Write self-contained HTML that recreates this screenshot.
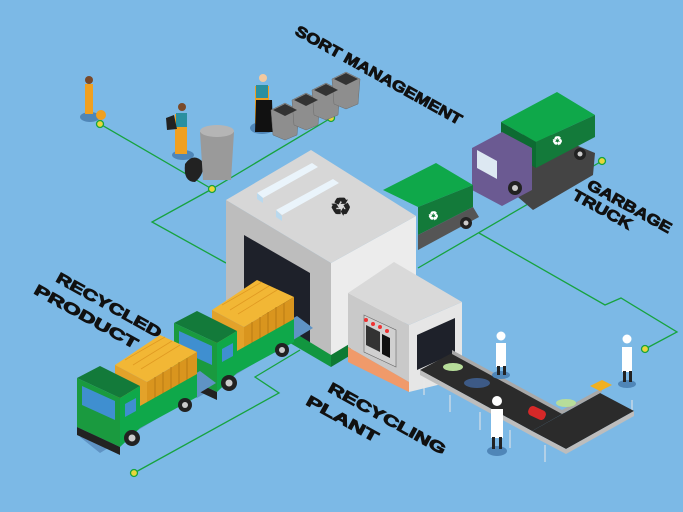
<!DOCTYPE html>
<html><head><meta charset="utf-8"><style>
html,body{margin:0;padding:0;background:#7cb9e6;}
svg{display:block}
text{font-family:"Liberation Sans",Arial,sans-serif;font-weight:bold;fill:#111;}
.lbl{stroke:#111;stroke-width:0.9;}
</style></head><body>
<svg width="683" height="512" viewBox="0 0 683 512" xmlns="http://www.w3.org/2000/svg">
<defs>
<g id="ytruck">
<path d="M80 437 l120 -66 l16 12 l-116 70z" fill="#5f93c4"/>
<path d="M115 365 l45 -30 l37 17 l-50 30z" fill="#f2b735"/>
<path d="M115 365 l32 17 l0 35 l-32 -17z" fill="#e3a22a"/>
<path d="M147 382 l50 -30 l0 38 l-50 28z" fill="#d9951e"/>
<g stroke="#b97b14" stroke-width="1"><line x1="155" y1="377" x2="155" y2="413"/><line x1="163" y1="372" x2="163" y2="408"/><line x1="171" y1="367" x2="171" y2="403"/><line x1="179" y1="362" x2="179" y2="398"/><line x1="187" y1="358" x2="187" y2="394"/></g>
<g stroke="#e09a22" stroke-width=".8"><line x1="125" y1="360" x2="165" y2="337"/><line x1="133" y1="365" x2="172" y2="341"/><line x1="141" y1="369" x2="180" y2="345"/></g>
<path d="M140 406 l57 -32 l0 23 l-57 31z" fill="#0fa84a"/>
<path d="M77 378 l23 -12 l40 20 l-20 12z" fill="#137a3a"/>
<path d="M120 398 l20 -12 l0 42 l-20 19z" fill="#0fa84a"/>
<path d="M125 404 l11 -6 l0 13 l-11 6z" fill="#3f8fd0"/>
<path d="M77 378 l43 20 l0 49 l-43 -20z" fill="#1a9a3f"/>
<path d="M82 386 l33 15 l0 19 l-33 -15z" fill="#3f8fd0"/>
<path d="M77 427 l43 20 l0 8 l-43 -20z" fill="#222"/>
<circle cx="132" cy="438" r="8" fill="#222"/><circle cx="132" cy="438" r="3.5" fill="#ccc"/>
<circle cx="185" cy="405" r="7" fill="#222"/><circle cx="185" cy="405" r="3" fill="#ccc"/>
</g>
</defs>
<rect width="683" height="512" fill="#7cb9e6"/>
<!-- connector lines -->
<g stroke="#17a33f" stroke-width="1.3" fill="none">
<polyline points="100,124 212,189 331,118"/>
<polyline points="212,189 152,222 226,263"/>
<polyline points="602,161 418,268"/>
<polyline points="479,233 605,305 621,298 677,332 645,349"/>
<polyline points="134,473 279,393 255,377 300,350"/>
</g>
<g fill="#e8d63a" stroke="#17a33f" stroke-width="1.3">
<circle cx="100" cy="124" r="3.5"/><circle cx="212" cy="189" r="3.5"/><circle cx="331" cy="118" r="3.5"/>
<circle cx="602" cy="161" r="3.5"/><circle cx="645" cy="349" r="3.5"/><circle cx="134" cy="473" r="3.5"/>
</g>

<!-- labels -->
<text class="lbl" transform="translate(294,34) rotate(29)" font-size="15" textLength="188" lengthAdjust="spacingAndGlyphs">SORT MANAGEMENT</text>
<text class="lbl" transform="translate(586,188) rotate(29)" font-size="15" textLength="94" lengthAdjust="spacingAndGlyphs">GARBAGE</text>
<text class="lbl" transform="translate(571,198) rotate(29)" font-size="15" textLength="66" lengthAdjust="spacingAndGlyphs">TRUCK</text>
<text class="lbl" transform="translate(55,281) rotate(29)" font-size="15" textLength="118" lengthAdjust="spacingAndGlyphs">RECYCLED</text>
<text class="lbl" transform="translate(33,293) rotate(29)" font-size="15" textLength="116" lengthAdjust="spacingAndGlyphs">PRODUCT</text>
<text class="lbl" transform="translate(327,391) rotate(29)" font-size="15" textLength="132" lengthAdjust="spacingAndGlyphs">RECYCLING</text>
<text class="lbl" transform="translate(305,404) rotate(29)" font-size="15" textLength="80" lengthAdjust="spacingAndGlyphs">PLANT</text>

<!-- sort management people & bins -->
<ellipse cx="90" cy="117" rx="10" ry="5" fill="#4f86b8"/>
<rect x="85" y="84" width="8" height="30" fill="#f0a020"/><circle cx="89" cy="80" r="4" fill="#7a4a2a"/>
<circle cx="101" cy="115" r="5" fill="#f0a020"/>
<ellipse cx="183" cy="155" rx="11" ry="5" fill="#4f86b8"/>
<rect x="175" y="114" width="12" height="40" fill="#f0a020"/><rect x="176" y="113" width="11" height="14" fill="#2a8fa0"/>
<circle cx="182" cy="107" r="4" fill="#7a4a2a"/><path d="M166 118 l8 -3 l3 14 l-10 1z" fill="#222"/>
<path d="M185 164 q8 -12 18 -2 q2 12 -8 20 q-12 0 -10 -18z" fill="#222"/>
<path d="M200 132 h34 l-3 48 h-28z" fill="#9a9a9a"/><ellipse cx="217" cy="131" rx="17" ry="6" fill="#b5b5b5"/>
<ellipse cx="262" cy="128" rx="12" ry="6" fill="#4f86b8"/>
<rect x="255" y="86" width="14" height="38" fill="#f0a020"/><rect x="256" y="85" width="12" height="13" fill="#2a8fa0"/>
<circle cx="263" cy="78" r="4" fill="#f2c9a0"/><path d="M256 100 h16 l1 32 h-18z" fill="#111"/>
<g fill="#8e8e8e" stroke="#6b6b6b" stroke-width=".5">
<path d="M271 110 l14 -7 l14 7 l-2 25 l-12 5 l-12 -5z"/>
<path d="M292 100 l14 -7 l14 7 l-2 25 l-12 5 l-12 -5z"/>
<path d="M312 90 l14 -7 l14 7 l-2 25 l-12 5 l-12 -5z"/>
<path d="M332 79 l14 -7 l14 7 l-2 25 l-12 5 l-12 -5z"/>
</g>
<g fill="#333"><path d="M273 110 l12 -6 l12 6 l-12 6z"/><path d="M294 100 l12 -6 l12 6 l-12 6z"/><path d="M314 90 l12 -6 l12 6 l-12 6z"/><path d="M334 79 l12 -6 l12 6 l-12 6z"/></g>

<!-- garbage truck purple -->
<path d="M475 160 l60 -32 l60 25 l-2 22 l-60 35z" fill="#444"/>
<path d="M501 122 l56 -30 l38 23 l-59 27z" fill="#0fa84a"/>
<path d="M536 142 l59 -27 l0 22 l-59 31z" fill="#137a3a"/>
<path d="M501 122 l35 20 l0 26 l-35 -20z" fill="#0d6b32"/>
<path d="M472 148 l30 -16 l30 16 l0 42 l-30 16 l-30 -16z" fill="#6b5a92"/>
<path d="M477 150 l20 11 l0 18 l-20 -11z" fill="#dde8f2"/>
<circle cx="515" cy="188" r="7" fill="#222"/><circle cx="515" cy="188" r="3" fill="#ccc"/>
<circle cx="580" cy="154" r="6" fill="#222"/><circle cx="580" cy="154" r="2.5" fill="#ccc"/>
<text x="552" y="145" font-size="12" style="fill:#fff">♻</text>

<!-- green truck behind building -->
<path d="M383 190 l53 -27 l37 22 l-55 22z" fill="#0fa84a"/>
<path d="M418 207 l55 -22 l0 22 l-55 28z" fill="#137a3a"/>
<path d="M418 235 l55 -28 l6 10 l-61 33z" fill="#555"/>
<circle cx="466" cy="223" r="6" fill="#222"/><circle cx="466" cy="223" r="2.5" fill="#ccc"/>
<text x="428" y="220" font-size="12" style="fill:#fff">♻</text>

<!-- main building -->
<path d="M226 200 l105 63 l0 102 l-105 -62z" fill="#bdbdbd"/>
<path d="M331 263 l85 -47 l0 100 l-85 49z" fill="#ececec"/>
<path d="M226 200 l85 -50 l105 66 l-85 47z" fill="#d7d7d7"/>
<path d="M257 193 l55 -30 l6 4 l-55 31z" fill="#eaf4fb"/><path d="M257 193 l6 5 l0 5 l-6 -4z" fill="#b9d9ee"/>
<path d="M276 210 l57 -31 l6 4 l-57 32z" fill="#eaf4fb"/><path d="M276 210 l6 6 l0 5 l-6 -4z" fill="#b9d9ee"/>
<text x="330" y="215" font-size="24" style="fill:#222">♻</text>
<path d="M244 235 l66 38 l0 72 l-66 -40z" fill="#1e212a"/>
<path d="M290 330 l41 25 l0 12 l-41 -24z" fill="#12963f"/>
<path d="M331 355 l20 -12 l0 12 l-20 12z" fill="#0f7a33"/>

<!-- small building -->
<path d="M348 293 l61 32 l0 57 l-61 -35z" fill="#c9c9c9"/>
<path d="M348 347 l61 35 l0 10 l-61 -30z" fill="#f09a6a"/>
<path d="M409 325 l53 -23 l0 77 l-53 13z" fill="#e6e6e6"/>
<path d="M348 293 l46 -31 l68 40 l-53 23z" fill="#d9d9d9"/>
<path d="M417 335 l38 -17 l0 35 l-38 17z" fill="#1e212a"/>
<path d="M364 315 l32 15 l0 37 l-32 -15z" fill="#d0d0d0" stroke="#666" stroke-width=".6"/>
<g fill="#e33"><circle cx="366" cy="320" r="2"/><circle cx="373" cy="324" r="2"/><circle cx="380" cy="327" r="2"/><circle cx="387" cy="331" r="2"/></g>
<path d="M366 325 l14 7 l0 20 l-14 -7z" fill="#333"/><path d="M382 334 l8 4 l0 20 l-8 -4z" fill="#111"/>

<!-- conveyor -->
<g stroke="#e8e8e8" stroke-width="1">
<line x1="424" y1="380" x2="424" y2="395"/><line x1="450" y1="395" x2="450" y2="412"/><line x1="480" y1="412" x2="480" y2="430"/><line x1="510" y1="430" x2="510" y2="448"/>
<line x1="545" y1="445" x2="545" y2="462"/><line x1="580" y1="428" x2="580" y2="445"/><line x1="615" y1="410" x2="615" y2="425"/><line x1="632" y1="400" x2="632" y2="415"/>
</g>
<path d="M420 370 l32 -17 l112 60 l-32 18z" fill="#2b2b2b"/>
<path d="M532 431 l68 -38 l34 18 l-68 38z" fill="#2b2b2b"/>
<path d="M420 370 l112 61 l34 18 l68 -38 l0 5 l-68 38 l-34 -18 l-112 -61z" fill="#bdbdbd"/>
<path d="M452 350 l110 60 l40 -22 l0 4 l-40 22 l-110 -60z" fill="#a8a8a8"/>
<ellipse cx="453" cy="367" rx="10" ry="4" fill="#b7dd9a"/>
<ellipse cx="477" cy="383" rx="13" ry="5" fill="#3d5a86"/>
<rect x="528" y="408" width="18" height="10" rx="4" fill="#d62828" transform="rotate(25 537 413)"/>
<ellipse cx="566" cy="403" rx="10" ry="4" fill="#b7dd9a"/>
<path d="M590 386 l12 -6 l10 5 l-12 6z" fill="#f0b020"/>

<!-- workers -->
<g>
<ellipse cx="501" cy="375" rx="9" ry="4" fill="#4f86b8"/><rect x="496" y="343" width="10" height="24" fill="#fff"/><rect x="497" y="366" width="3" height="9" fill="#222"/><rect x="503" y="366" width="3" height="9" fill="#222"/><circle cx="501" cy="336" r="4.5" fill="#fff"/>
<ellipse cx="627" cy="384" rx="9" ry="4" fill="#4f86b8"/><rect x="622" y="347" width="10" height="25" fill="#fff"/><rect x="623" y="371" width="3" height="11" fill="#222"/><rect x="629" y="371" width="3" height="11" fill="#222"/><circle cx="627" cy="339" r="4.5" fill="#fff"/>
<ellipse cx="497" cy="451" rx="10" ry="5" fill="#4f86b8"/><rect x="491" y="409" width="12" height="29" fill="#fff"/><rect x="492" y="437" width="3" height="12" fill="#222"/><rect x="499" y="437" width="3" height="12" fill="#222"/><circle cx="497" cy="401" r="5" fill="#fff"/>
</g>

<!-- yellow trucks -->
<use href="#ytruck" transform="translate(97,-55)"/>
<use href="#ytruck"/>
</svg>
</body></html>
